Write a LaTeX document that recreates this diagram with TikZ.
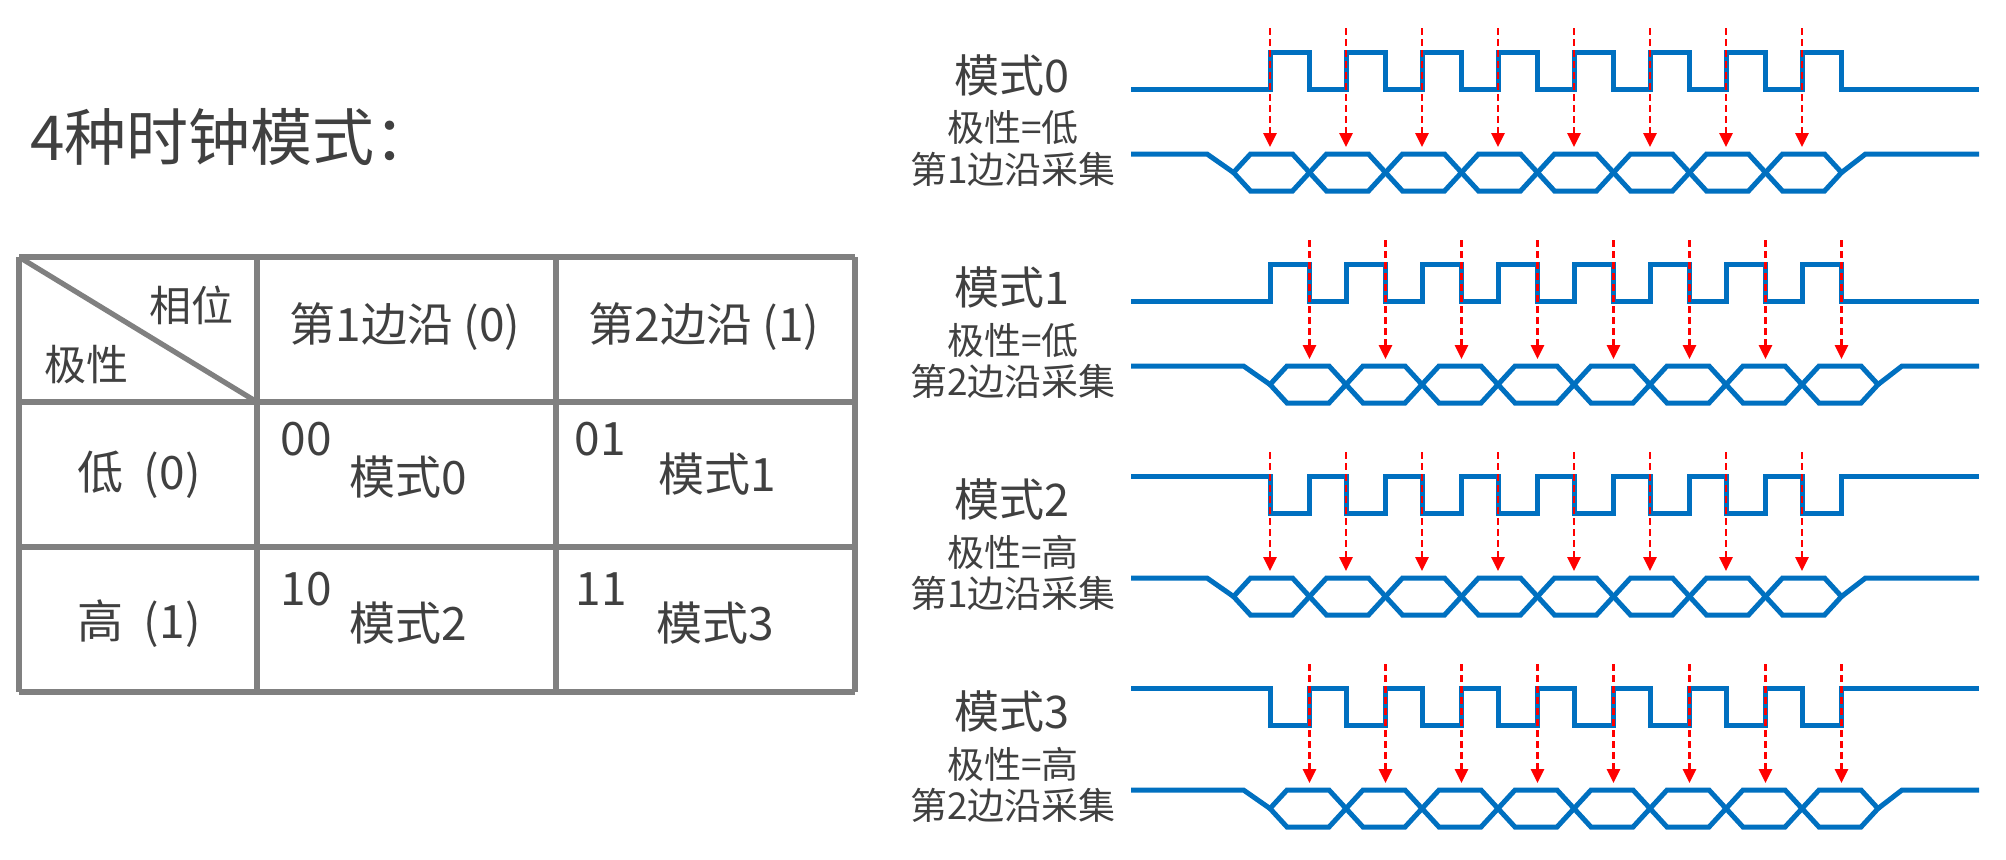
\documentclass[tikz,border=0pt]{standalone}
\usepackage{fontspec}
\setmainfont{Noto Sans CJK SC}
\usetikzlibrary{arrows.meta}
\definecolor{waveblue}{HTML}{0070C0}
\definecolor{rulegray}{HTML}{808080}
\definecolor{inkgray}{HTML}{404040}
\begin{document}
\begin{tikzpicture}[x=0.5pt, y=-0.5pt, every node/.style={inner sep=0pt, text=inkgray},
    titletext/.style={font=\fontsize{31pt}{36pt}\selectfont},
    celltext/.style={font=\fontsize{23pt}{27pt}\selectfont},
    cornertext/.style={font=\fontsize{21pt}{25pt}\selectfont},
    modetext/.style={font=\fontsize{22.5pt}{27pt}\selectfont},
    notetext/.style={font=\fontsize{18.5pt}{22pt}\selectfont},
    tableline/.style={draw=rulegray, line width=2.6pt, line cap=square},
    signal/.style={draw=waveblue, line width=2.5pt},
    samplearrow/.style={draw=red, line width=1.4pt, dash pattern=on 3.5pt off 2pt, -{Triangle[length=7pt, width=6.5pt]}}]
\fill[white] (0,0) rectangle (2006,859);
\useasboundingbox (0,0) rectangle (2006,859);
    \node[titletext, anchor=west] (title) at (30,137) {4种时钟模式：};
    \foreach \x in {19,257,556,855}
        \draw[tableline] (\x,257) -- (\x,692);
    \foreach \y in {257,402,547,692}
        \draw[tableline] (19,\y) -- (855,\y);
\draw[tableline] (19,257) -- (257,402);
    \node[cornertext] (phase) at (191,305) {相位};
    \node[cornertext] (polar) at (86,365) {极性};
    \node[celltext] (edge1) at (405,327) {第1边沿 (0)};
    \node[celltext] (edge2) at (704,327) {第2边沿 (1)};
    \node[celltext] (low) at (139,475) {低\hspace{0.45em}(0)};
    \node[celltext] (high) at (139,624) {高\hspace{0.45em}(1)};
    \foreach \n/\code/\cx/\cy/\mx/\my in {0/00/306/439/408/477, 1/01/600/439/717/474, 2/10/306/589/408/623, 3/11/601/589/715/623} {
        \node[celltext] (code\n) at (\cx,\cy) {\code};
        \node[celltext] (cell\n) at (\mx,\my) {模式\n};
    }
    \foreach \m/\rest/\pulse/\pol/\e/\ash/\dsh in {0/89/52/低/1/0/0, 1/301/264/低/2/39.5/36.5, 2/476/513/高/1/0/0, 3/688/725/高/2/39.5/36.5} {
        \pgfmathsetmacro{\dtop}{154+212*\m}
        \pgfmathsetmacro{\dmid}{172.5+212*\m}
        \pgfmathsetmacro{\cz}{1233.5+\dsh}
        \node[modetext] (mode\m) at (1012,{75+212*\m}) {模式\m};
        \node[notetext] (pol\m) at (1013,{128+212*\m}) {极性=\pol};
        \node[notetext] (edge\m) at (1013,{169+212*\m}) {第\e 边沿采集};
        \draw[signal] (1131,\rest) \foreach \k in {0,...,7} { -- ({1270+76*\k},\rest) -- ({1270+76*\k},\pulse) -- ({1309.5+76*\k},\pulse) -- ({1309.5+76*\k},\rest)} -- (1979,\rest);
        \draw[signal] (1131,\dtop) -- ({\cz-26.5},\dtop) -- (\cz,\dmid);
        \foreach \k in {0,...,7}
            \draw[signal] ({\cz+76*\k},\dmid) -- ++(17,-18.5) -- ++(42,0) -- ++(17,18.5) -- ++(-17,18.5) -- ++(-42,0) -- cycle;
        \draw[signal] ({\cz+608},\dmid) -- ++(24,-18.5) -- (1979,\dtop);
        \foreach \k in {0,...,7} {
            \coordinate (s\m\k) at ({1270+\ash+76*\k},{28+212*\m});
            \coordinate (d\m\k) at ({1270+\ash+76*\k},{147+212*\m});
            \draw[samplearrow] (s\m\k) -- (d\m\k);
        }
    }
\end{tikzpicture}
\end{document}
